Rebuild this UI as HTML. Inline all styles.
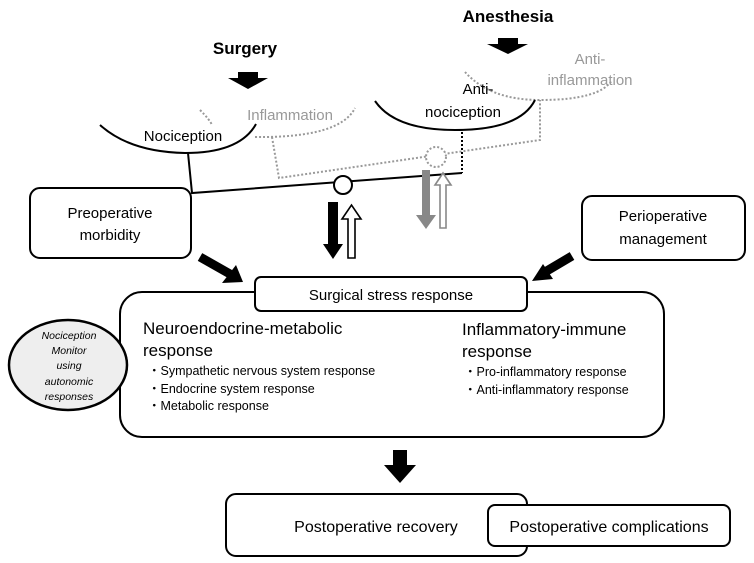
<!DOCTYPE html>
<html><head><meta charset="utf-8"><style>
html,body{margin:0;padding:0;background:#fff;}
svg{display:block;font-family:"Liberation Sans","DejaVu Sans",sans-serif;}
</style></head><body>
<svg width="754" height="563" viewBox="0 0 754 563" xmlns="http://www.w3.org/2000/svg">
<rect width="754" height="563" fill="#fff"/>
<text x="245" y="54" font-size="17" font-weight="bold" text-anchor="middle">Surgery</text>
<polygon points="238,72 258,72 258,78 268,78 248,89 228,78 238,78" fill="#000"/>
<text x="508" y="22" font-size="17" font-weight="bold" text-anchor="middle">Anesthesia</text>
<polygon points="498,38 518,38 518,44 528,44 508,54 487,44 498,44" fill="#000"/>
<g stroke="#999" stroke-width="2" stroke-dasharray="2,2" fill="none">
<path d="M200,110 Q210,120 212,125"/>
<path d="M255,137 Q340,138 355,108"/>
<path d="M272,137 L279,178 L540,140 L540,100"/>
<path d="M465,72 Q490,100 540,100 Q600,100 612,80"/>
<circle cx="436" cy="157" r="10" fill="#fff"/>
</g>
<text x="290" y="120" font-size="15" fill="#999" text-anchor="middle">Inflammation</text>
<text x="590" y="64" font-size="15" fill="#999" text-anchor="middle">Anti-</text>
<text x="590" y="85" font-size="15" fill="#999" text-anchor="middle">inflammation</text>
<path d="M100,125 Q130,152 185,153 Q240,153 256,124" stroke="#000" stroke-width="2" fill="none"/>
<text x="183" y="141" font-size="15" text-anchor="middle">Nociception</text>
<path d="M375,101 Q395,130 455,130 Q520,130 535,100" stroke="#000" stroke-width="2" fill="none"/>
<text x="478" y="94" font-size="15" text-anchor="middle">Anti-</text>
<text x="463" y="117" font-size="15" text-anchor="middle">nociception</text>
<line x1="462" y1="132" x2="462" y2="173" stroke="#000" stroke-width="2" stroke-dasharray="2,2"/>
<path d="M188,153 L192,193 L462,173" stroke="#000" stroke-width="2" fill="none"/>
<circle cx="343" cy="185" r="9" fill="#fff" stroke="#000" stroke-width="2"/>
<polygon points="328,202 338,202 338,244 343,244 333,259 323,244 328,244" fill="#000"/>
<polygon points="348,258 355,258 355,219 361,219 351.5,205 342,219 348,219" fill="#fff" stroke="#000" stroke-width="1.6"/>
<polygon points="422,170 430,170 430,215 436,215 426,229 416,215 422,215" fill="#888"/>
<polygon points="440,228 446,228 446,185 451,185 443,173 435,185 440,185" fill="#fff" stroke="#888" stroke-width="1.6"/>
<rect x="30" y="188" width="161" height="70" rx="10" fill="#fff" stroke="#000" stroke-width="2"/>
<text x="110" y="218" font-size="15" text-anchor="middle">Preoperative</text>
<text x="110" y="240" font-size="15" text-anchor="middle">morbidity</text>
<rect x="582" y="196" width="163" height="64" rx="10" fill="#fff" stroke="#000" stroke-width="2"/>
<text x="663" y="221" font-size="15" text-anchor="middle">Perioperative</text>
<text x="663" y="244" font-size="15" text-anchor="middle">management</text>
<line x1="200" y1="257" x2="230" y2="274" stroke="#000" stroke-width="9"/>
<polygon points="243,282 222,283 236,265" fill="#000"/>
<line x1="572" y1="256" x2="545" y2="272" stroke="#000" stroke-width="9"/>
<polygon points="532,281 543,264 553,279" fill="#000"/>
<rect x="120" y="292" width="544" height="145" rx="22" fill="#fff" stroke="#000" stroke-width="2"/>
<rect x="255" y="277" width="272" height="34" rx="6" fill="#fff" stroke="#000" stroke-width="2"/>
<text x="391" y="300" font-size="15" text-anchor="middle">Surgical stress response</text>
<text x="143" y="334" font-size="17">Neuroendocrine-metabolic</text>
<text x="143" y="356" font-size="17">response</text>
<text x="148" y="375" font-size="12.5">・Sympathetic nervous system response</text>
<text x="148" y="393" font-size="12.5">・Endocrine system response</text>
<text x="148" y="410" font-size="12.5">・Metabolic response</text>
<text x="462" y="335" font-size="17">Inflammatory-immune</text>
<text x="462" y="357" font-size="17">response</text>
<text x="464" y="376" font-size="12.5">・Pro-inflammatory response</text>
<text x="464" y="394" font-size="12.5">・Anti-inflammatory response</text>
<ellipse cx="68" cy="365" rx="59" ry="45" fill="#eee" stroke="#000" stroke-width="2.5"/>
<g font-size="10.5" font-style="italic" text-anchor="middle">
<text x="69" y="339">Nociception</text>
<text x="69" y="354">Monitor</text>
<text x="69" y="369">using</text>
<text x="69" y="385">autonomic</text>
<text x="69" y="400">responses</text>
</g>
<polygon points="393,450 407,450 407,465 416,465 400,483 384,465 393,465" fill="#000"/>
<rect x="226" y="494" width="301" height="62" rx="10" fill="#fff" stroke="#000" stroke-width="2"/>
<text x="376" y="532" font-size="16" text-anchor="middle">Postoperative recovery</text>
<rect x="488" y="505" width="242" height="41" rx="7" fill="#fff" stroke="#000" stroke-width="2"/>
<text x="609" y="532" font-size="16" text-anchor="middle">Postoperative complications</text>
</svg>
</body></html>
